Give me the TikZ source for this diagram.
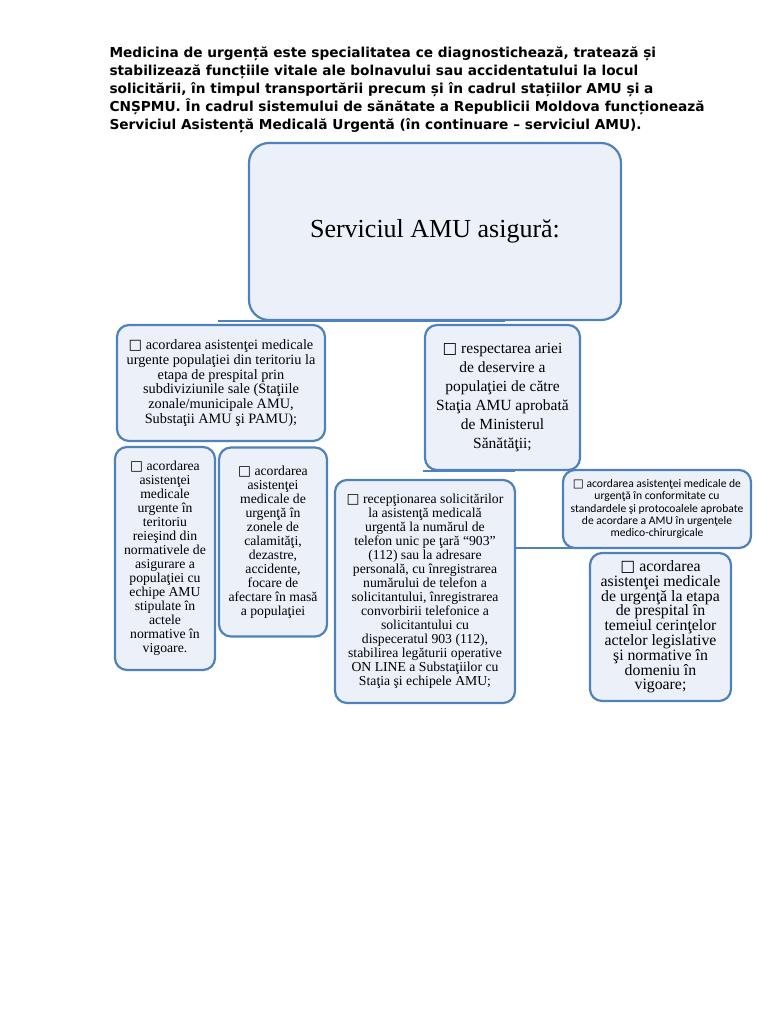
\documentclass[tikz,border=0pt]{standalone}
\usepackage{fontspec}
\setmainfont{Liberation Serif}
\newfontfamily\headfont{DejaVu Sans}
\newfontfamily\calfont{Carlito}
\newfontfamily\symfont{DejaVu Sans}
\usetikzlibrary{positioning}
\definecolor{amublue}{RGB}{79,129,189}
\definecolor{amufill}{RGB}{236,240,248}
\newcommand{\amusq}{{\symfont\char"25A1}}

\begin{document}
\begin{tikzpicture}[x=1pt,y=-1pt,
  amubox/.style={draw=amublue, line width=2.2pt, fill=amufill, rounded corners=12pt, align=center, inner sep=0pt},
  amuline/.style={draw=amublue, line width=2pt}]
  \useasboundingbox[fill=white] (0,0) rectangle (768,1024);
  % Intro paragraph
  \node[anchor=north west, align=left, font=\headfont\bfseries\fontsize{13.7}{18}\selectfont] (intro) at (106,43)
    {Medicina de urgență este specialitatea ce diagnostichează, tratează și\\
     stabilizează funcțiile vitale ale bolnavului sau accidentatului la locul\\
     solicitării, în timpul transportării precum și în cadrul stațiilor AMU și a\\
     CNȘPMU. În cadrul sistemului de sănătate a Republicii Moldova funcționează\\
     Serviciul Asistență Medicală Urgentă (în continuare – serviciul AMU).};
  % Bus lines behind the boxes
  \coordinate (busA) at (218,321);
  \coordinate (busB) at (505,321);
  \coordinate (busC) at (423,471);
  \coordinate (busD) at (515,471);
  \coordinate (busE) at (515,548);
  \coordinate (busF) at (590,548);
  \draw[amuline] (busA) -- (busB);
  \draw[amuline] (busC) -- (busD);
  \draw[amuline] (busE) -- (busF);
  % Top box
  \node[amubox, rounded corners=20pt, minimum width=372pt, minimum height=177pt, font=\fontsize{26}{30}\selectfont] (top) at (435,231.5) {Serviciul AMU asigură:};
  % Second row
  \node[amubox, minimum width=208pt, minimum height=116pt, font=\fontsize{14.3}{14.8}\selectfont] (prespital) at (221,383)
    {\amusq{} acordarea asistenţei medicale\\ urgente populaţiei din teritoriu la\\ etapa de prespital prin\\ subdiviziunile sale (Staţiile\\ zonale/municipale AMU,\\ Substaţii AMU şi PAMU);};
  \node[amubox, minimum width=155pt, minimum height=145pt, font=\fontsize{15.5}{19}\selectfont] (arie) at (502.5,397.5)
    {\amusq{} respectarea ariei\\ de deservire a\\ populaţiei de către\\ Staţia AMU aprobată\\ de Ministerul\\ Sănătăţii;};
  % Third row
  \node[amubox, minimum width=100pt, minimum height=223pt, font=\fontsize{13.7}{14}\selectfont] (teritoriu) at (165,558.5)
    {\amusq{} acordarea\\ asistenţei\\ medicale\\ urgente în\\ teritoriu\\ reieşind din\\ normativele de\\ asigurare a\\ populaţiei cu\\ echipe AMU\\ stipulate în\\ actele\\ normative în\\ vigoare.};
  \node[amubox, minimum width=108pt, minimum height=189pt, font=\fontsize{13.7}{14}\selectfont] (calamitati) at (273,542)
    {\amusq{} acordarea\\ asistenţei\\ medicale de\\ urgenţă în\\ zonele de\\ calamităţi,\\ dezastre,\\ accidente,\\ focare de\\ afectare în masă\\ a populaţiei};
  \node[amubox, minimum width=180pt, minimum height=223pt, font=\fontsize{13.7}{14}\selectfont] (receptie) at (425,591.5)
    {\amusq{} recepţionarea solicitărilor\\ la asistenţă medicală\\ urgentă la numărul de\\ telefon unic pe ţară “903”\\ (112) sau la adresare\\ personală, cu înregistrarea\\ numărului de telefon a\\ solicitantului, înregistrarea\\ convorbirii telefonice a\\ solicitantului cu\\ dispeceratul 903 (112),\\ stabilirea legăturii operative\\ ON LINE a Substaţiilor cu\\ Staţia şi echipele AMU;};
  \node[amubox, minimum width=188pt, minimum height=78pt, font=\calfont\fontsize{11.6}{12.4}\selectfont] (standarde) at (657,509)
    {\amusq{} acordarea asistenţei medicale de\\ urgenţă în conformitate cu\\ standardele şi protocoalele aprobate\\ de acordare a AMU în urgenţele\\ medico-chirurgicale};
  \node[amubox, minimum width=141pt, minimum height=148pt, font=\fontsize{15.8}{14.8}\selectfont] (legislatie) at (660.5,627)
    {\amusq{} acordarea\\ asistenţei medicale\\ de urgenţă la etapa\\ de prespital în\\ temeiul cerinţelor\\ actelor legislative\\ şi normative în\\ domeniu în\\ vigoare;};
\end{tikzpicture}
\end{document}
